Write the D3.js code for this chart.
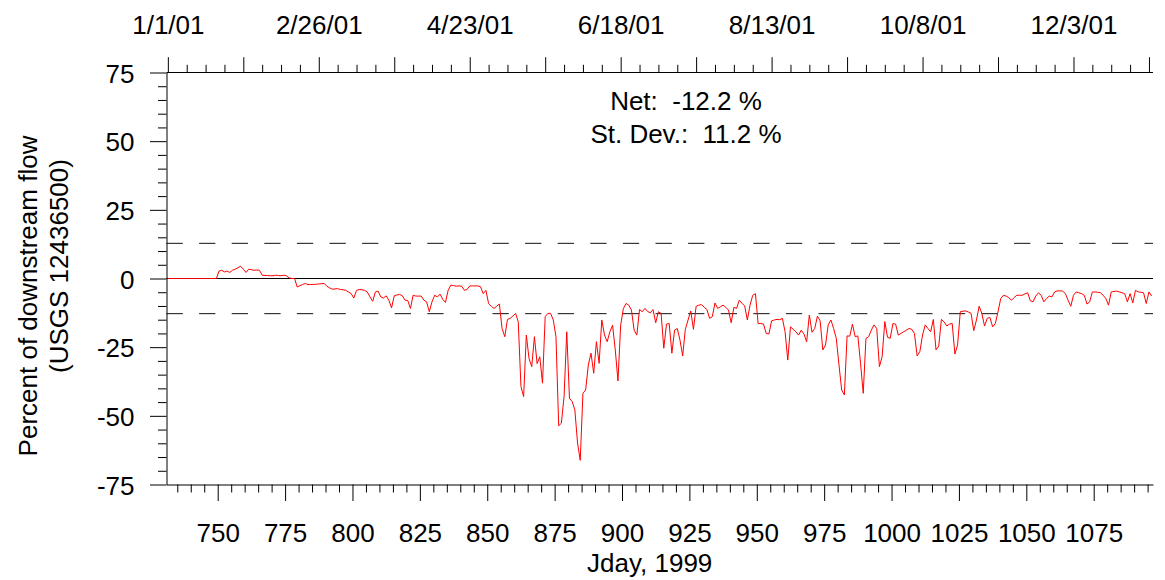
<!DOCTYPE html>
<html>
<head>
<meta charset="utf-8">
<script src="https://cdn.jsdelivr.net/npm/d3@7"></script>
<style>
  html, body { margin: 0; padding: 0; background: #fff; }
  svg { display: block; font-family: "Liberation Sans", Arial, Helvetica, sans-serif; }
  text.pre { white-space: pre; }
</style>
</head>
<body>
<svg id="chart" width="1165" height="580"></svg>
<script>
// Daily change as percent of downstream flow, starting at Jday 731 (1 Jan 2001)
const firstDay = 731;
const pct = [
  0, 0, 0, 0, 0, 0, 0, 0, 0, 0, 0, 0, 0, 0, 0, 0, 0, 0, 0,        // 731-749
  2.7, 3.0, 2.4, 2.7, 2.2, 3.0, 3.4, 3.9, 4.5, 3.4,                 // 750
  2.2, 3.4, 3.2, 3.0, 3.1, 3.0, 1.2, 1.1, 1.1, 1.0,                 // 760
  1.0, 1.2, 1.1, 1.0, 1.2, 1.0, 0.2, 0, 0, -3.1,                    // 770
  -2.6, -2.2, -1.8, -2.2, -2.2, -2.15, -2.1, -2.0, -1.9, -1.8,      // 780
  -2.8, -3.4, -3.9, -3.8, -3.7, -4.0, -4.1, -4.3, -4.9, -5.5,       // 790
  -7.1, -4.3, -4.0, -4.1, -4.3, -4.9, -6.7, -8.3, -4.9, -4.6,       // 800
  -6.7, -7.1, -6.3, -7.9, -10.7, -6.3, -6.0, -5.8, -6.3, -7.9,      // 810
  -8.0, -10.9, -6.1, -6.4, -6.4, -6.4, -7.9, -8.5, -12.1, -8.5,     // 820
  -6.1, -6.7, -5.7, -7.6, -8.7, -4.3, -2.4, -2.6, -2.8, -2.7,       // 830
  -2.8, -4.3, -4.0, -2.7, -2.7, -2.7, -2.7, -3.0, -5.5, -4.3,       // 840
  -9.1, -10.1, -10.9, -10.1, -9.3, -18.2, -21.2, -14.9, -14.5, -13.7, // 850
  -12.7, -15.7, -39.3, -43.0, -20.6, -29.1, -32.1, -21.2, -31.0, -28.5, // 860
  -38.1, -13.9, -12.7, -12.7, -15.1, -21.2, -53.6, -52.7, -43.0, -19.4, // 870
  -43.6, -44.8, -47.8, -59.9, -66.2, -41.8, -40.6, -31.5, -27.2, -34.5, // 880
  -23.0, -30.9, -15.1, -20.6, -23.0, -19.4, -17.0, -26.0, -37.3, -17.0, // 890
  -10.9, -9.1, -9.7, -11.5, -18.8, -20.6, -11.3, -12.1, -10.9, -12.0,   // 900
  -12.5, -11.3, -16.1, -12.1, -12.7, -25.4, -16.6, -16.4, -27.2, -18.8, // 910
  -18.2, -22.4, -28.2, -18.5, -15.1, -11.8, -18.5, -10.1, -9.7, -9.5,   // 920
  -10.5, -11.3, -14.5, -13.9, -8.9, -10.9, -10.3, -9.7, -10.5, -11.5,   // 930
  -16.1, -10.5, -10.9, -7.9, -9.0, -10.0, -15.1, -9.7, -6.1, -5.5,      // 940
  -16.4, -16.4, -16.6, -20.0, -20.2, -15.4, -15.1, -14.9, -15.0, -14.5, // 950
  -19.4, -29.7, -17.6, -18.5, -19.4, -20.6, -18.8, -20.2, -23.0, -13.3, // 960
  -19.6, -18.2, -13.7, -15.4, -26.0, -24.2, -16.9, -15.1, -18.2, -21.8, // 970
  -31.5, -40.6, -42.4, -20.9, -21.0, -16.6, -21.2, -20.9, -30.9, -41.8, // 980
  -21.8, -21.2, -18.8, -16.9, -18.2, -32.1, -28.5, -15.7, -21.4, -21.8, // 990
  -16.4, -16.6, -20.6, -20.0, -19.4, -18.8, -18.2, -18.5, -20.0, -28.2, // 1000
  -26.6, -20.6, -16.9, -18.2, -19.4, -14.9, -26.0, -24.6, -14.9, -15.8, // 1010
  -17.3, -16.6, -16.4, -27.5, -24.2, -12.1, -11.9, -11.8, -12.2, -12.7, // 1020
  -19.0, -15.1, -10.1, -12.7, -17.3, -14.5, -14.2, -17.6, -16.4, -12.1, // 1030
  -7.3, -6.1, -6.4, -7.0, -7.9, -6.9, -6.1, -6.1, -6.1, -5.6,           // 1040
  -5.2, -8.1, -8.5, -6.4, -5.2, -6.1, -8.5, -7.3, -6.4, -6.7,           // 1050
  -4.9, -4.5, -4.5, -4.6, -5.5, -7.9, -10.1, -6.1, -4.9, -5.2,          // 1060
  -5.5, -6.1, -9.3, -8.5, -4.9, -4.9, -5.0, -5.2, -6.1, -7.3,           // 1070
  -9.7, -4.9, -4.7, -4.6, -4.9, -5.2, -5.5, -8.5, -5.5, -8.9,           // 1080
  -4.3, -4.9, -5.0, -5.2, -9.1, -4.9, -6.4                              // 1090-1096
];

// Axis ticks and labels
const yMajorTicks = [-75, -50, -25, 0, 25, 50, 75];
const xMajorTicks = [750, 775, 800, 825, 850, 875, 900, 925, 950, 975, 1000, 1025, 1050, 1075];
const dateLabelDays = [731, 787, 843, 899, 955, 1011, 1067];
const dateLabels = ["1/1/01", "2/26/01", "4/23/01", "6/18/01", "8/13/01", "10/8/01", "12/3/01"];

// Summary statistics and reference band
const netPct = -12.2;
const stdDevPct = 11.2;
const refBand = 12.8;

const svg = d3.select("#chart");
const FONT = 26;
const plainNumber = d => String(d);   // hyphen-minus, as printed on the axes

const x = d3.scaleLinear().domain([731, 1097]).range([166.5, 1153]);
// daily values and calendar days are placed at mid-day
const xMid = x.copy().domain([730.5, 1096.5]);
const y = d3.scaleLinear().domain([-75, 75]).range([484.5, 72.5]);

const left = x.range()[0], right = x.range()[1];

function styleAxis(g) {
  g.selectAll("path.domain").attr("stroke", "#000").attr("stroke-width", 1);
  g.selectAll(".tick line").attr("stroke", "#000").attr("stroke-width", 1);
  g.selectAll("text").attr("fill", "#000").attr("font-size", FONT)
    .attr("font-family", "'Liberation Sans', Arial, Helvetica, sans-serif");
}

// reference lines
svg.append("line")
  .attr("x1", left).attr("x2", right)
  .attr("y1", y(0)).attr("y2", y(0))
  .attr("stroke", "#000").attr("stroke-width", 1);

[refBand, -refBand].forEach(v => {
  svg.append("line")
    .attr("x1", left).attr("x2", right)
    .attr("y1", y(v)).attr("y2", y(v))
    .attr("stroke", "#111").attr("stroke-width", 1)
    .attr("stroke-dasharray", "16.3 16.3");
});

// data line
const series = pct.map((v, i) => ({ day: firstDay + i, v }));
svg.append("path")
  .datum(series)
  .attr("fill", "none")
  .attr("stroke", "#ff0000")
  .attr("stroke-width", 1)
  .attr("stroke-linejoin", "round")
  .attr("d", d3.line().x(d => xMid(d.day)).y(d => y(d.v)));

// left axis
const yMinor = d3.range(-75, 76, 5).filter(v => !yMajorTicks.includes(v));
svg.append("g").attr("transform", `translate(${left},0)`)
  .call(d3.axisLeft(y).tickValues(yMinor).tickSize(8.5).tickFormat(""))
  .call(g => g.select(".domain").remove())
  .call(styleAxis);
svg.append("g").attr("transform", `translate(${left},0)`)
  .call(d3.axisLeft(y).tickValues(yMajorTicks).tickSize(16.5).tickSizeOuter(0).tickPadding(15.5).tickFormat(plainNumber))
  .call(styleAxis)
  .call(g => g.selectAll("text").attr("dy", "0.37em"));

// bottom axis (Jday)
const xMinor = d3.range(735, 1096, 5).filter(v => !xMajorTicks.includes(v));
const yBottom = y(-75);
svg.append("g").attr("transform", `translate(0,${yBottom})`)
  .call(d3.axisBottom(x).tickValues(xMinor).tickSize(8).tickFormat(""))
  .call(g => g.select(".domain").remove())
  .call(styleAxis);
svg.append("g").attr("transform", `translate(0,${yBottom})`)
  .call(d3.axisBottom(x).tickValues(xMajorTicks).tickSize(16.5).tickSizeOuter(0).tickFormat(plainNumber))
  .call(styleAxis)
  .call(g => g.selectAll("text").attr("y", 57.3).attr("dy", 0));

// top axis (calendar dates, weekly ticks)
const weekDays = d3.range(731, 1096, 7);
const topMajor = weekDays.filter((d, i) => i % 4 === 0);
const topMinor = weekDays.filter((d, i) => i % 4 !== 0);
const yTop = y(75);
svg.append("g").attr("transform", `translate(0,${yTop})`)
  .call(d3.axisTop(xMid).tickValues(topMinor).tickSize(7.7).tickFormat(""))
  .call(g => g.select(".domain").remove())
  .call(styleAxis);
svg.append("g").attr("transform", `translate(0,${yTop})`)
  .call(d3.axisTop(xMid).tickValues(topMajor).tickSize(15.3).tickSizeOuter(0)
    .tickFormat(d => { const k = dateLabelDays.indexOf(d); return k >= 0 ? dateLabels[k] : ""; }))
  .call(g => g.select(".domain").remove())
  .call(styleAxis)
  .call(g => g.selectAll("text").attr("y", -39).attr("dy", 0));
svg.append("line")
  .attr("x1", left).attr("x2", right).attr("y1", yTop).attr("y2", yTop)
  .attr("stroke", "#000").attr("stroke-width", 1);

// statistics annotation
const stats = svg.append("g")
  .attr("font-size", FONT).attr("fill", "#000").attr("text-anchor", "middle");
stats.append("text").attr("class", "pre").attr("x", 686).attr("y", 110)
  .text(`Net:  ${netPct.toFixed(1)} %`);
stats.append("text").attr("class", "pre").attr("x", 686).attr("y", 142.7)
  .text(`St. Dev.:  ${stdDevPct.toFixed(1)} %`);

// axis titles
svg.append("text")
  .attr("x", 649.7).attr("y", 571.5)
  .attr("text-anchor", "middle").attr("font-size", FONT).attr("fill", "#000")
  .text("Jday, 1999");

svg.append("text")
  .attr("transform", "translate(37,296) rotate(-90)")
  .attr("text-anchor", "middle").attr("font-size", FONT).attr("fill", "#000")
  .text("Percent of downstream flow");
svg.append("text")
  .attr("transform", "translate(68.3,266) rotate(-90)")
  .attr("text-anchor", "middle").attr("font-size", FONT).attr("fill", "#000")
  .text("(USGS 12436500)");
</script>
</body>
</html>
